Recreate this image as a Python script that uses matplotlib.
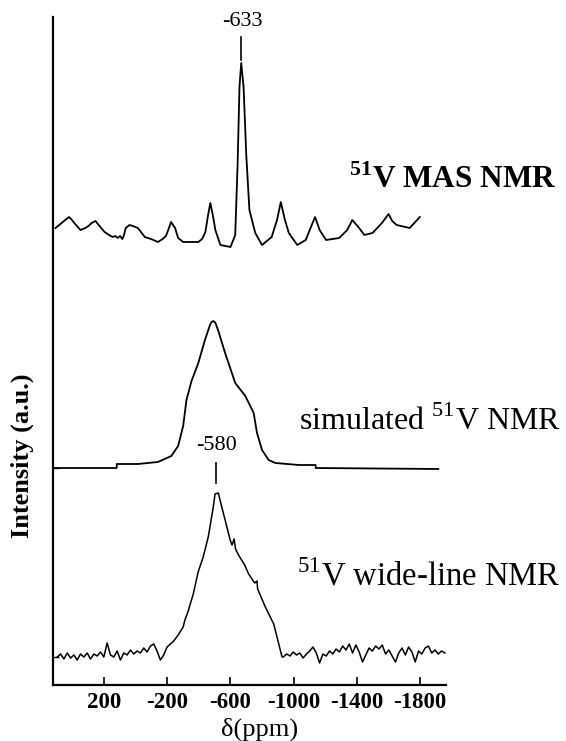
import numpy as np
import matplotlib
matplotlib.use("Agg")
import matplotlib.pyplot as plt

plt.rcParams['font.family'] = ['Liberation Serif', 'DejaVu Serif']
plt.rcParams['mathtext.fontset'] = 'custom'
plt.rcParams['mathtext.rm'] = 'Liberation Serif'
plt.rcParams['mathtext.bf'] = 'Liberation Serif:bold'

# x ticks (ppm)
tick_ppm = [200, -200, -600, -1000, -1400, -1800]
tick_labels = ['200', '-200', '-600', '-1000', '-1400', '-1800']

# 51V MAS NMR trace (ppm, intensity above its own baseline)
mas_ppm = [509, 470, 440, 423, 405, 390, 351, 320, 300, 280,
           256, 225, 198, 170, 147, 130, 115, 100, 85, 75,
           64, 40, 19, -13, -57, -96, -140, -170, -191, -210,
           -223, -236, -249, -268, -300, -332, -396, -420, -441, -458,
           -472, -488, -504, -536, -600, -630, -645, -657, -668, -683,
           -700, -720, -757, -800, -861, -895, -919, -945, -970, -1023,
           -1077, -1110, -1136, -1165, -1206, -1289, -1340, -1372, -1410, -1449,
           -1500, -1560, -1602, -1625, -1653, -1736, -1800]
mas_int = [17, 22, 26, 28, 25, 22, 15, 17, 19, 22,
           24, 18, 13, 10, 8, 9, 7, 9, 6, 10,
           17, 20, 19, 17, 8, 6, 3, 6, 9, 17,
           23, 20, 17, 7, 3, 3, 3, 6, 13, 30,
           42, 30, 15, 0, -2, 10, 80, 158, 182, 158,
           90, 35, 12, 0, 8, 25, 43, 25, 12, 0,
           5, 18, 28, 15, 5, 7, 15, 25, 18, 10,
           12, 22, 31, 24, 20, 17, 28]

# simulated 51V NMR trace
sim_ppm = [519, 121, 121, -13, -140, -225, -268, -300, -321, -353,
           -396, -438, -470, -480, -491, -505, -523, -566, -630, -694,
           -747, -768, -800, -842, -885, -1034, -1140, -1140, -1917]
sim_int = [0, 0, 4, 4, 6, 12, 22, 42, 68, 87,
           105, 128, 143, 146, 147, 145, 137, 115, 85, 72,
           55, 35, 18, 8, 5, 3, 3, 0, -1]

# 51V wide-line NMR trace: noisy baseline left, line, noisy baseline right
wl_left_ppm = np.linspace(498, -240, 36)
wl_left_int = [0, 3, -2, 4, -1, 2, -3, 3, 0, 4, -2, 3, 1, 5, 0, 14, 2, 0,
               6, -3, 4, 2, 7, 3, 6, 4, 9, 5, 11, 13, 6, -3, 2, 10, 13, 16]
wl_core_ppm = [-268, -300, -311, -330, -364, -395, -427, -459, -491, -502,
               -523, -540, -566, -598, -610, -623, -632, -651, -690, -715,
               -753, -768, -772, -821, -874, -906, -927]
wl_core_int = [22, 30, 37, 45, 63, 85, 100, 120, 150, 163,
               164, 153, 137, 117, 112, 118, 108, 102, 92, 83,
               74, 76, 68, 50, 33, 13, 0]
wl_right_ppm = np.linspace(-935, -1959, 50)
wl_right_int = [0, 3, 1, 5, 2, 4, -1, 3, 6, 10, 4, -6, 3, 1, 6, 3, 8, 5, 11, 7,
                13, 4, 12, 5, -5, 2, 9, 6, 11, 8, 12, 3, 7, 1, -5, 4, 9, 2, 10, 5,
                -5, 6, 3, 9, 11, 4, 7, 3, 6, 4]

# vertical offsets of the three traces
mas_off = 440
sim_off = 217
wl_off = 28

fig = plt.figure(figsize=(5.66, 7.41), dpi=100)
ax = fig.add_axes([53 / 566, 56 / 741, 393 / 566, 668 / 741])

ax.plot(mas_ppm, np.array(mas_int) + mas_off, color='black', lw=1.3)
ax.plot(sim_ppm, np.array(sim_int) + sim_off, color='black', lw=1.3)
wl_ppm = np.concatenate([wl_left_ppm, wl_core_ppm, wl_right_ppm])
wl_int = np.concatenate([wl_left_int, wl_core_int, wl_right_int])
ax.plot(wl_ppm, wl_int + wl_off, color='black', lw=1.1)

ax.set_xlim(525, -1966)
ax.set_ylim(0, 668)

for s in ['top', 'right']:
    ax.spines[s].set_visible(False)
for s in ['left', 'bottom']:
    ax.spines[s].set_linewidth(1.6)

ax.set_xticks(tick_ppm)
ax.set_xticklabels(tick_labels, fontsize=16.5, fontweight='bold')
ax.tick_params(axis='x', direction='in', length=6, width=1.2, pad=5)
ax.set_yticks([wl_off, sim_off])
ax.set_yticklabels([])
ax.tick_params(axis='y', direction='in', length=4, width=1.0)

# peak markers
ax.text(-676, 663, '-633', ha='center', va='center', fontsize=16)
ax.plot([-668, -668], [625, 648], color='black', lw=1.2)
ax.text(-511, 240, '-580', ha='center', va='center', fontsize=16)
ax.plot([-506, -506], [202, 222], color='black', lw=1.2)

# trace labels
ax.text(-1354, 497, r'$^{\mathbf{51}}$V MAS NMR', fontsize=22.5,
        fontweight='bold', va='baseline', clip_on=False)
ax.text(-1034, 255, r'simulated $^{51}$V NMR', fontsize=23, va='baseline',
        clip_on=False)
ax.text(-1022, 100, r'$^{51}$V wide-line NMR', fontsize=23.5, va='baseline',
        clip_on=False)

fig.text(260 / 566, 1 - 729 / 741, 'δ(ppm)', ha='center', va='center',
         fontsize=19)
fig.text(22 / 566, 1 - 456 / 741, 'Intensity (a.u.)', ha='center',
         va='center', rotation=90, fontsize=19, fontweight='bold')

fig.savefig('out.png', dpi=100)
